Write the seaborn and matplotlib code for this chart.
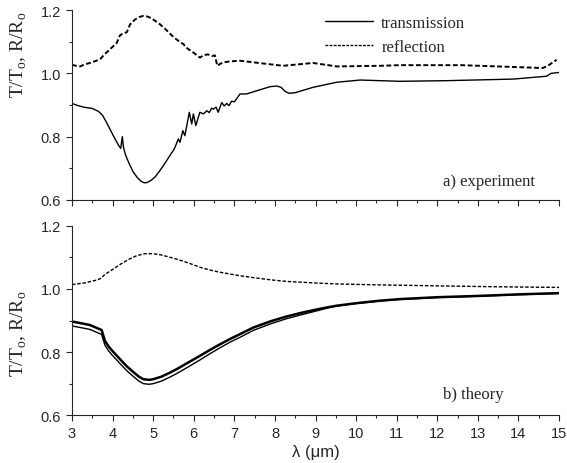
import numpy as np
import pandas as pd
import matplotlib
matplotlib.use("Agg")
import matplotlib.pyplot as plt
import seaborn as sns
from matplotlib.lines import Line2D

# a) experiment - transmission
exp_t_x = [3.0, 3.15, 3.3, 3.5, 3.65, 3.75, 3.85, 3.95, 4.05, 4.15, 4.2, 4.24, 4.27, 4.32, 4.4,
           4.5, 4.6, 4.7, 4.78, 4.85, 4.95, 5.05, 5.15, 5.25, 5.35, 5.45, 5.5, 5.54, 5.62, 5.66,
           5.73, 5.78, 5.89, 5.95, 5.99, 6.05, 6.15, 6.24, 6.32, 6.38, 6.44, 6.48, 6.55, 6.6,
           6.69, 6.75, 6.81, 6.87, 6.93, 7.0, 7.14, 7.3, 7.6, 7.88, 8.05, 8.15, 8.25, 8.35, 8.5,
           8.94, 9.52, 10.1, 10.59, 11.08, 12.23, 13.87, 14.69, 14.8, 15.0]
exp_t_y = [0.905, 0.898, 0.893, 0.889, 0.880, 0.868, 0.845, 0.820, 0.795, 0.772, 0.763, 0.800,
           0.765, 0.742, 0.717, 0.690, 0.672, 0.659, 0.654, 0.655, 0.662, 0.673, 0.690, 0.708,
           0.728, 0.748, 0.757, 0.767, 0.793, 0.782, 0.819, 0.803, 0.877, 0.840, 0.872, 0.835,
           0.877, 0.872, 0.882, 0.876, 0.890, 0.887, 0.893, 0.877, 0.908, 0.897, 0.905, 0.898,
           0.912, 0.910, 0.935, 0.935, 0.947, 0.958, 0.960, 0.956, 0.943, 0.937, 0.939, 0.956,
           0.972, 0.979, 0.977, 0.975, 0.977, 0.982, 0.991, 1.0, 1.003]

# a) experiment - reflection
exp_r_x = [3.0, 3.1, 3.2, 3.3, 3.44, 3.6, 3.7, 3.8, 3.95, 4.1, 4.18, 4.25, 4.35, 4.43, 4.55,
           4.65, 4.76, 4.85, 4.95, 5.05, 5.17, 5.3, 5.5, 5.65, 5.74, 5.85, 5.95, 6.05, 6.15, 6.25,
           6.35, 6.45, 6.52, 6.58, 6.65, 6.73, 6.9, 7.14, 7.47, 7.8, 8.2, 8.94, 9.52, 10.59,
           11.08, 12.6, 14.6, 14.72, 14.94]
exp_r_y = [1.027, 1.024, 1.022, 1.028, 1.033, 1.040, 1.046, 1.060, 1.078, 1.096, 1.120, 1.126,
           1.130, 1.155, 1.170, 1.178, 1.182, 1.180, 1.175, 1.166, 1.155, 1.140, 1.115, 1.100,
           1.093, 1.078, 1.070, 1.060, 1.050, 1.058, 1.060, 1.055, 1.057, 1.024, 1.030, 1.035,
           1.038, 1.040, 1.035, 1.030, 1.024, 1.033, 1.022, 1.024, 1.026, 1.026, 1.017, 1.024,
           1.043]

# b) theory - reflection
th_r_x = [3.0, 3.3, 3.6, 3.72, 3.8, 4.0, 4.2, 4.4, 4.6, 4.8, 5.0, 5.2, 5.4, 5.6, 5.9, 6.15,
          6.4, 6.65, 7.14, 7.47, 7.9, 8.29, 9.0, 9.52, 10.59, 12.0, 13.5, 15.0]
th_r_y = [1.014, 1.019, 1.028, 1.034, 1.045, 1.062, 1.079, 1.094, 1.106, 1.112, 1.112, 1.108,
          1.101, 1.094, 1.081, 1.069, 1.060, 1.053, 1.042, 1.036, 1.029, 1.024, 1.019, 1.016,
          1.013, 1.010, 1.007, 1.005]

# b) theory - transmission (two close curves)
th_t_x = [3.0, 3.44, 3.73, 3.81, 3.9, 4.0, 4.18, 4.35, 4.5, 4.65, 4.76, 4.9, 5.0, 5.2, 5.4,
          5.58, 5.85, 6.15, 6.4, 6.65, 6.9, 7.14, 7.47, 7.9, 8.29, 8.7, 9.1, 9.3, 9.52, 10.0,
          10.59, 11.08, 12.0, 13.0, 14.0, 15.0]
th_t1_y = [0.897, 0.886, 0.870, 0.836, 0.818, 0.803, 0.778, 0.755, 0.738, 0.722, 0.714, 0.712,
           0.714, 0.722, 0.734, 0.746, 0.766, 0.788, 0.807, 0.825, 0.842, 0.857, 0.878, 0.898,
           0.913, 0.926, 0.937, 0.942, 0.947, 0.955, 0.963, 0.968, 0.974, 0.978, 0.983, 0.987]
th_t2_y = [0.883, 0.872, 0.856, 0.822, 0.804, 0.789, 0.764, 0.741, 0.724, 0.708, 0.700, 0.698,
           0.700, 0.708, 0.720, 0.732, 0.752, 0.775, 0.795, 0.814, 0.832, 0.847, 0.869, 0.890,
           0.906, 0.920, 0.933, 0.940, 0.946, 0.954, 0.962, 0.967, 0.973, 0.977, 0.982, 0.986]

sns.set_style("ticks")
plt.rcParams['font.family'] = ['Liberation Sans', 'DejaVu Sans']
plt.rcParams['axes.linewidth'] = 0.8

fig = plt.figure(figsize=(5.67, 4.64), dpi=100)
ax1 = fig.add_axes([0.127, 0.567, 0.859, 0.409])
ax2 = fig.add_axes([0.127, 0.103, 0.859, 0.408])

dash = (0, (2.5, 1.3))
sns.lineplot(x=exp_t_x, y=exp_t_y, ax=ax1, color='k', lw=1.0)
sns.lineplot(x=exp_r_x, y=exp_r_y, ax=ax1, color='k', lw=1.4, linestyle=dash)
sns.lineplot(x=th_r_x, y=th_r_y, ax=ax2, color='k', lw=1.0, linestyle=dash)
sns.lineplot(x=th_t_x, y=th_t1_y, ax=ax2, color='k', lw=1.8)
sns.lineplot(x=th_t_x, y=th_t2_y, ax=ax2, color='k', lw=1.0)

for ax in (ax1, ax2):
    ax.set_xlim(3, 15)
    ax.set_ylim(0.6, 1.2)
    ax.set_xticks(np.arange(3, 16, 1))
    ax.set_xticks(np.arange(3.5, 15, 1), minor=True)
    ax.set_yticks([0.6, 0.8, 1.0, 1.2])
    ax.set_yticks([0.7, 0.9, 1.1], minor=True)
    ax.set_yticklabels(['0.6', '0.8', '1.0', '1.2'])
    ax.tick_params(which='major', length=4.5, width=0.8, direction='out', labelsize=10.5)
    ax.tick_params(which='minor', length=2.5, width=0.8, direction='out')
    sns.despine(ax=ax)
    ax.set_ylabel("T/T$_\\mathregular{o}$, R/R$_\\mathregular{o}$", family='Liberation Serif',
                  fontsize=14)

# labels sit high in the top panel, slightly low in the bottom one
ax1.yaxis.set_label_coords(-0.088, 0.77)
ax2.yaxis.set_label_coords(-0.088, 0.434)

ax1.tick_params(axis='x', labelbottom=False)
ax2.set_xlabel("λ (μm)", fontsize=12, labelpad=3)

ax1.text(0.762, 0.1, "a) experiment", transform=ax1.transAxes, family='Liberation Serif',
         fontsize=12, ha='left', va='center')
ax2.text(0.762, 0.111, "b) theory", transform=ax2.transAxes, family='Liberation Serif',
         fontsize=12, ha='left', va='center')

handles = [Line2D([], [], color='k', lw=1.0),
           Line2D([], [], color='k', lw=1.0, linestyle=(0, (2, 1)))]
ax1.legend(handles, ["transmission", "reflection"], loc='upper right',
           bbox_to_anchor=(0.825, 1.02), frameon=False, borderpad=0, handlelength=2.9,
           handletextpad=0.5, labelspacing=0.5, prop={'family': 'Liberation Serif', 'size': 12})

fig.savefig("out.png", dpi=100)
